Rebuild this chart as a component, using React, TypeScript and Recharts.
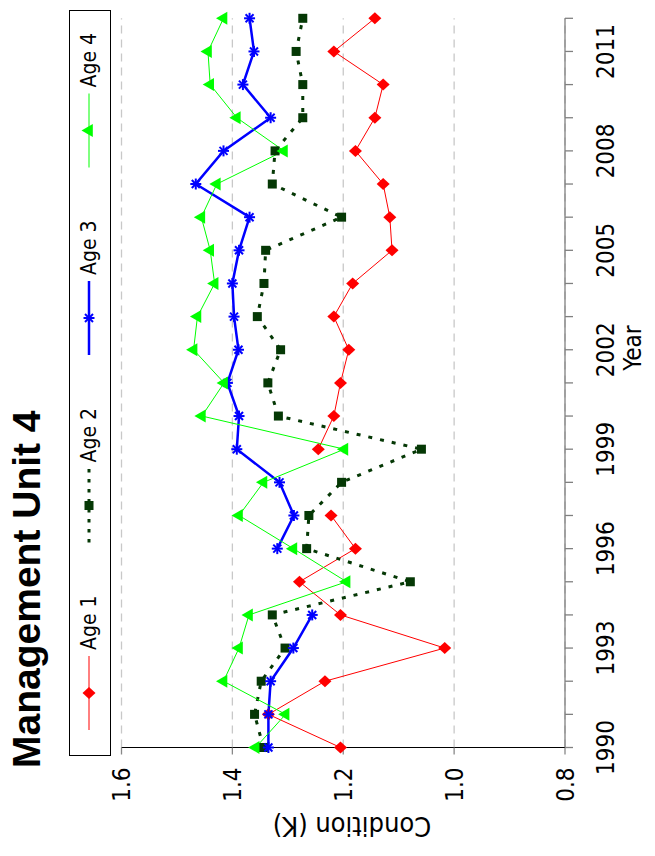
import React from 'react';
import { LineChart, Line, XAxis, YAxis, CartesianGrid, Legend } from 'recharts';

// values, one per year (null = no sample that year)
const years = [1990, 1991, 1992, 1993, 1994, 1995, 1996, 1997, 1998, 1999, 2000, 2001, 2002, 2003, 2004, 2005, 2006, 2007, 2008, 2009, 2010, 2011, 2012];
const age1 = [1.205, 1.335, 1.233, 1.017, 1.205, 1.279, 1.178, 1.222, null, 1.245, 1.217, 1.205, 1.19, 1.217, 1.183, 1.112, 1.116, 1.128, 1.178, 1.143, 1.128, 1.217, 1.143];
const age2 = [1.344, 1.36, 1.348, 1.305, 1.328, 1.079, 1.266, 1.262, 1.203, 1.059, 1.317, 1.336, 1.313, 1.355, 1.343, 1.34, 1.203, 1.328, 1.323, 1.273, 1.273, 1.285, 1.273];
const age3 = [1.335, 1.335, 1.331, 1.29, 1.256, null, 1.319, 1.289, 1.315, 1.392, 1.388, 1.409, 1.389, 1.397, 1.4, 1.388, 1.369, 1.466, 1.416, 1.331, 1.381, 1.361, 1.369];
const age4 = [1.358, 1.304, 1.416, 1.388, 1.37, 1.194, 1.29, 1.388, 1.344, 1.198, 1.455, 1.415, 1.47, 1.463, 1.432, 1.44, 1.456, 1.428, 1.307, 1.392, 1.44, 1.444, 1.416];

const yTicks = [0.8, 1.0, 1.2, 1.4, 1.6];
const seriesNames = ['Age 1', 'Age 2', 'Age 3', 'Age 4'];

const RED = '#ff0000';
const DKGREEN = '#053805';
const BLUE = '#0000ff';
const GREEN = '#00ff00';

const rows = years.map((year, i) => ({
    year,
    age1: age1[i],
    age2: age2[i],
    age3: age3[i],
    age4: age4[i],
}));

const FONT = '"DejaVu Sans Condensed", "DejaVu Sans", sans-serif';
const TITLE_FONT = '"Liberation Sans", Arial, sans-serif';
const cond = { fontStretch: 'condensed' } as React.CSSProperties;

// marker shapes (R style pch 18, 15, 8, 17)
const Diamond = ({ cx, cy }: any) => (
    <path d={`M${cx},${cy - 6.5} L${cx + 6},${cy} L${cx},${cy + 6.5} L${cx - 6},${cy} Z`} fill={RED} />
);
const Square = ({ cx, cy }: any) => (
    <rect x={cx - 4.5} y={cy - 4.5} width={9} height={9} fill={DKGREEN} />
);
const Asterisk = ({ cx, cy }: any) => (
    <g stroke={BLUE} strokeWidth={2}>
        <line x1={cx - 5.5} y1={cy} x2={cx + 5.5} y2={cy} />
        <line x1={cx} y1={cy - 5.5} x2={cx} y2={cy + 5.5} />
        <line x1={cx - 4} y1={cy - 4} x2={cx + 4} y2={cy + 4} />
        <line x1={cx - 4} y1={cy + 4} x2={cx + 4} y2={cy - 4} />
    </g>
);
const Triangle = ({ cx, cy }: any) => (
    <path d={`M${cx},${cy - 7.5} L${cx + 6.5},${cy + 3.8} L${cx - 6.5},${cy + 3.8} Z`} fill={GREEN} />
);

const markers = [Diamond, Square, Asterisk, Triangle];

const dotFor = (Shape: any) => (props: any) => {
    if (props.cy == null || props.value == null) return <g key={props.key} />;
    return <Shape key={props.key} cx={props.cx} cy={props.cy} />;
};

const legendStyles = [
    { color: RED, width: 1, dash: undefined },
    { color: DKGREEN, width: 3, dash: '3.5 6.5' },
    { color: BLUE, width: 2.5, dash: undefined },
    { color: GREEN, width: 1, dash: undefined },
];

const BoxLegend = () => (
    <svg width={746} height={42} style={{ display: 'block' }}>
        <rect x={0.5} y={0.5} width={745} height={41} fill="white" stroke="#000" strokeWidth={1} />
        {seriesNames.map((name, i) => {
            const mx = 63 + i * 187.5;
            const Shape = markers[i];
            const st = legendStyles[i];
            return (
                <g key={name}>
                    <line x1={mx - 37} y1={20} x2={mx + 37} y2={20} stroke={st.color}
                          strokeWidth={st.width} strokeDasharray={st.dash} />
                    <Shape cx={mx} cy={20} />
                    <text x={mx + 43} y={27} fontSize={21} fontFamily={FONT} style={cond} fill="#000">{name}</text>
                </g>
            );
        })}
    </svg>
);

const App = () => {
    const yearTicks = years;
    return (
        <div style={{ position: 'absolute', left: 0, top: 0, width: 655, height: 856, overflow: 'hidden', background: '#fff' }}>
            <div style={{
                position: 'absolute', left: 0, top: 0, width: 856, height: 655,
                transformOrigin: '0 0', transform: 'translateY(856px) rotate(-90deg)',
            }}>
                <LineChart width={856} height={655} data={rows}
                           margin={{ top: 121.5, right: 18.3, bottom: 30, left: 48 }}>
                    <CartesianGrid vertical={false} stroke="#c8c8c8" strokeWidth={1.3} strokeDasharray="8 6" />
                    <XAxis
                        type="number"
                        dataKey="year"
                        domain={[1990, 2012]}
                        ticks={yearTicks}
                        interval={0}
                        tickFormatter={(v: number) => ((v - 1990) % 3 === 0 ? String(v) : '')}
                        height={60}
                        tickSize={8}
                        tickMargin={24}
                        axisLine={{ stroke: '#808080', strokeWidth: 1.3 }}
                        tickLine={{ stroke: '#808080', strokeWidth: 1.3 }}
                        tick={{ fill: '#000', fontSize: 24, fontFamily: FONT, style: cond }}
                    />
                    <YAxis
                        type="number"
                        domain={[0.8, 1.6]}
                        ticks={yTicks}
                        width={60.5}
                        tickSize={7}
                        tickMargin={13}
                        tickFormatter={(v: number) => v.toFixed(1)}
                        axisLine={{ stroke: '#000', strokeWidth: 1.2 }}
                        tickLine={{ stroke: '#888', strokeWidth: 1.3 }}
                        tick={{ fill: '#000', fontSize: 24, fontFamily: FONT, style: cond }}
                    />
                    <Legend
                        content={<BoxLegend />}
                        layout="vertical"
                        align="center"
                        verticalAlign="middle"
                        wrapperStyle={{ left: 100, top: 69, width: 746, height: 42 }}
                    />
                    <Line dataKey="age1" name={seriesNames[0]} stroke={RED} strokeWidth={1}
                          dot={dotFor(Diamond)} activeDot={false} isAnimationActive={false} />
                    <Line dataKey="age2" name={seriesNames[1]} stroke={DKGREEN} strokeWidth={3}
                          strokeDasharray="4 8" dot={dotFor(Square)} activeDot={false} isAnimationActive={false} />
                    <Line dataKey="age3" name={seriesNames[2]} stroke={BLUE} strokeWidth={2.5}
                          dot={dotFor(Asterisk)} activeDot={false} isAnimationActive={false} />
                    <Line dataKey="age4" name={seriesNames[3]} stroke={GREEN} strokeWidth={1}
                          dot={dotFor(Triangle)} activeDot={false} isAnimationActive={false} />
                </LineChart>
                {/* title and axis titles */}
                <svg width={856} height={655} style={{ position: 'absolute', left: 0, top: 0, pointerEvents: 'none' }}>
                    <text x={88} y={40} fontSize={39} fontWeight="bold" fontFamily={TITLE_FONT} fill="#000">
                        Management Unit 4
                    </text>
                    <text x={39} y={352} transform="rotate(-90 39 352)" textAnchor="middle"
                          fontSize={27} fontFamily={FONT} style={cond} fill="#000">Condition (K)</text>
                    <text x={508} y={641} textAnchor="middle" fontSize={24} fontFamily={FONT} style={cond} fill="#000">Year</text>
                </svg>
            </div>
        </div>
    );
};

export default App;
